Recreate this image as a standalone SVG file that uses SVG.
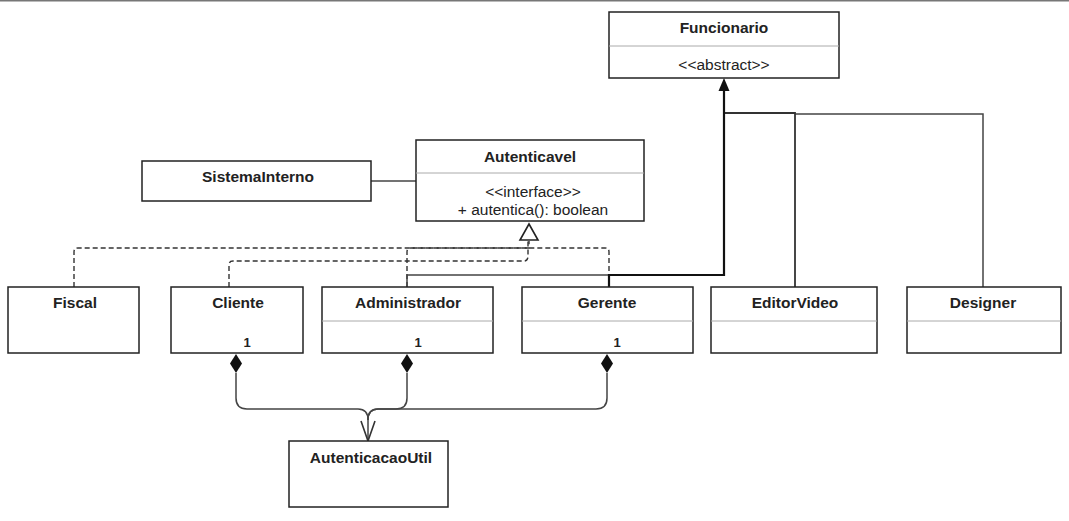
<svg xmlns="http://www.w3.org/2000/svg" width="1069" height="521" viewBox="0 0 1069 521">
<style>
.box{fill:#fff;stroke:#222;stroke-width:1.5}
.div{stroke:#aaa;stroke-width:1}
.t{font-family:"Liberation Sans",Arial,sans-serif;font-size:15.5px;font-weight:bold;fill:#222;text-anchor:middle}
.r{font-family:"Liberation Sans",Arial,sans-serif;font-size:15.5px;fill:#222;text-anchor:middle}
.m{font-family:"Liberation Sans",Arial,sans-serif;font-size:13px;font-weight:bold;fill:#222;text-anchor:middle}
.dash{fill:none;stroke:#333;stroke-width:1.4;stroke-dasharray:5 3}
.ln{fill:none;stroke:#444;stroke-width:1.5}
.thick{fill:none;stroke:#111;stroke-width:2.2}
</style>
<rect x="0" y="0" width="1069" height="521" fill="#fff"/>
<rect x="0" y="0" width="1069" height="1.5" fill="#777"/>

<g id="connectors">
  <line class="ln" x1="371" y1="181" x2="416" y2="181"/>
  <path class="dash" d="M74 287 V252 Q74 248 78 248 H529 V241"/>
  <path class="dash" d="M229 287 V265 Q229 261 233 261 H524 Q528 261 528 256 V241"/>
  <path class="dash" d="M407 287 V252 Q407 248 411 248 H529"/>
  <path class="dash" d="M609 287 V252 Q609 248 605 248 H529"/>
  <polygon points="529,224 520,240 538,240" fill="#fff" stroke="#222" stroke-width="1.6"/>

  <path class="ln" d="M407 287 V275 H609"/>
  <path class="ln" d="M983 287 V114 H795"/>
  <path fill="none" stroke="#333" stroke-width="1.8" d="M795 287 V113 H724"/>
  <path class="thick" d="M609 287 V275 H724 V90"/>
  <polygon points="724,78 718.5,91 729.5,91" fill="#111"/>

  <path class="ln" d="M236 373 V398 Q236 409 247 409 H358 Q368 409 368 420 V441"/>
  <path class="ln" d="M407 373 V398 Q407 409 396 409 H378 Q368 409 368 420"/>
  <path class="ln" d="M607 373 V398 Q607 409 596 409 H378 Q368 409 368 420"/>
  <polyline points="361,421 368,441 375,421" fill="none" stroke="#333" stroke-width="1.6"/>
  <polygon points="236,354 242,363.5 236,373 230,363.5" fill="#111"/>
  <polygon points="407,354 413,363.5 407,373 401,363.5" fill="#111"/>
  <polygon points="607,354 613,363.5 607,373 601,363.5" fill="#111"/>
</g>

<g id="Funcionario">
  <rect class="box" x="609" y="12" width="230" height="66"/>
  <line class="div" x1="609" y1="46" x2="839" y2="46"/>
  <text class="t" x="724" y="33">Funcionario</text>
  <text class="r" x="724" y="70">&lt;&lt;abstract&gt;&gt;</text>
</g>

<g id="Autenticavel">
  <rect class="box" x="416" y="140" width="228" height="81"/>
  <line class="div" x1="416" y1="173" x2="644" y2="173"/>
  <text class="t" x="530" y="162">Autenticavel</text>
  <text class="r" x="533" y="197">&lt;&lt;interface&gt;&gt;</text>
  <text class="r" x="533" y="215">+ autentica(): boolean</text>
</g>

<g id="SistemaInterno">
  <rect class="box" x="142" y="161" width="229" height="40"/>
  <text class="t" x="258" y="182">SistemaInterno</text>
</g>

<g id="Fiscal">
  <rect class="box" x="8" y="287" width="131" height="66"/>
  <text class="t" x="75" y="308">Fiscal</text>
</g>

<g id="Cliente">
  <rect class="box" x="171" y="287" width="132" height="66"/>
  <text class="t" x="238" y="308">Cliente</text>
  <text class="m" x="247" y="347">1</text>
</g>

<g id="Administrador">
  <rect class="box" x="322" y="287" width="171" height="66"/>
  <line class="div" x1="322" y1="321" x2="493" y2="321"/>
  <text class="t" x="408" y="308">Administrador</text>
  <text class="m" x="418" y="347">1</text>
</g>

<g id="Gerente">
  <rect class="box" x="522" y="287" width="171" height="66"/>
  <line class="div" x1="522" y1="321" x2="693" y2="321"/>
  <text class="t" x="607" y="308">Gerente</text>
  <text class="m" x="617" y="347">1</text>
</g>

<g id="EditorVideo">
  <rect class="box" x="711" y="287" width="166" height="66"/>
  <line class="div" x1="711" y1="321" x2="877" y2="321"/>
  <text class="t" x="795" y="308">EditorVideo</text>
</g>

<g id="Designer">
  <rect class="box" x="907" y="287" width="154" height="66"/>
  <line class="div" x1="907" y1="321" x2="1061" y2="321"/>
  <text class="t" x="983" y="308">Designer</text>
</g>

<g id="AutenticacaoUtil">
  <rect class="box" x="289" y="441" width="159" height="66"/>
  <text class="t" x="371" y="463">AutenticacaoUtil</text>
</g>
</svg>
